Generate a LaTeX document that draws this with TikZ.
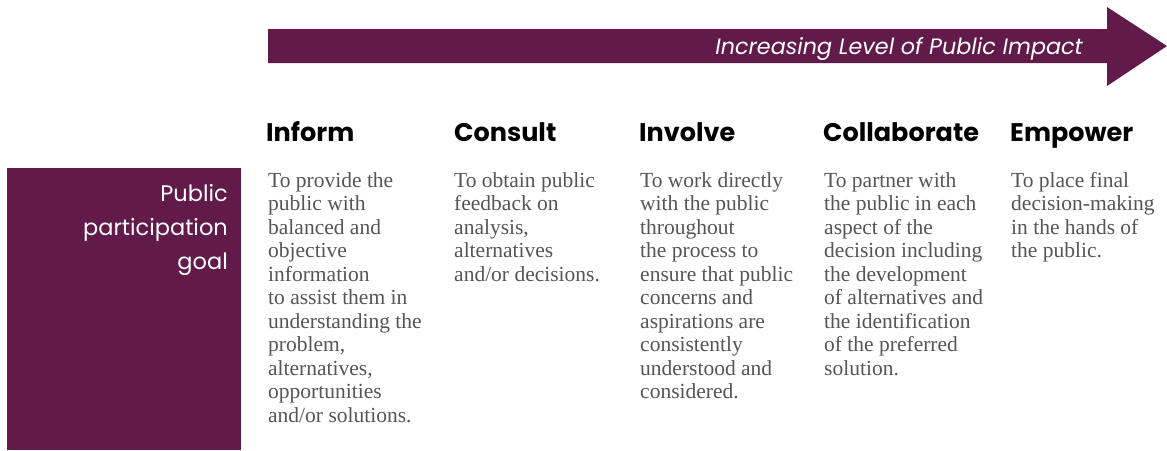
\documentclass[tikz,border=0pt]{standalone}
\usepackage{fontspec}
\setmainfont{Liberation Serif}
\setsansfont{Poppins}
\usetikzlibrary{positioning}
\definecolor{plum}{RGB}{97,26,74}
\definecolor{bodygray}{RGB}{85,85,85}
\begin{document}
\begin{tikzpicture}[x=1pt, y=-1pt]
    \tikzstyle{heading} = [anchor=base west, inner sep=0pt, font=\sffamily\bfseries\fontsize{25.5}{30}\selectfont]
    \tikzstyle{body} = [anchor=north west, inner sep=0pt, align=left, text=bodygray, font=\fontsize{21.5}{23.5}\selectfont]
    \tikzstyle{goal} = [anchor=north east, inner sep=0pt, align=right, text=white, font=\sffamily\fontsize{22.5}{34}\selectfont]

    \useasboundingbox (0,0) rectangle (1167,450);

    % Impact arrow
    \fill [plum] (268,29) -- (1107,29) -- (1107,7) -- (1167,46) -- (1107,86) -- (1107,63) -- (268,63) -- cycle;
    \node [anchor=base east, inner sep=0pt, text=white, font=\sffamily\itshape\fontsize{22.3}{24}\selectfont] (impact) at (1083,54) {Increasing Level of Public Impact};

    % Goal box
    \fill [plum] (7,168) rectangle (241,450);
    \node [goal] (goal) at (228,184.5) {Public\\participation\\goal};

    % Headings
    \node [heading] (inform) at (266,141) {Inform};
    \node [heading] (consult) at (454,141) {Consult};
    \node [heading] (involve) at (639,141) {Involve};
    \node [heading] (collaborate) at (823,141) {Collaborate};
    \node [heading] (empower) at (1010,141) {Empower};

    % Goals per level
    \node [body] (inform_text) at (268,172) {To provide the\\public with\\balanced and\\objective\\information\\to assist them in\\understanding the\\problem,\\alternatives,\\opportunities\\and/or solutions.};
    \node [body] (consult_text) at (454,172) {To obtain public\\feedback on\\analysis,\\alternatives\\and/or decisions.};
    \node [body] (involve_text) at (640,172) {To work directly\\with the public\\throughout\\the process to\\ensure that public\\concerns and\\aspirations are\\consistently\\understood and\\considered.};
    \node [body] (collaborate_text) at (824,172) {To partner with\\the public in each\\aspect of the\\decision including\\the development\\of alternatives and\\the identification\\of the preferred\\solution.};
    \node [body] (empower_text) at (1011,172) {To place final\\decision-making\\in the hands of\\the public.};
\end{tikzpicture}
\end{document}
